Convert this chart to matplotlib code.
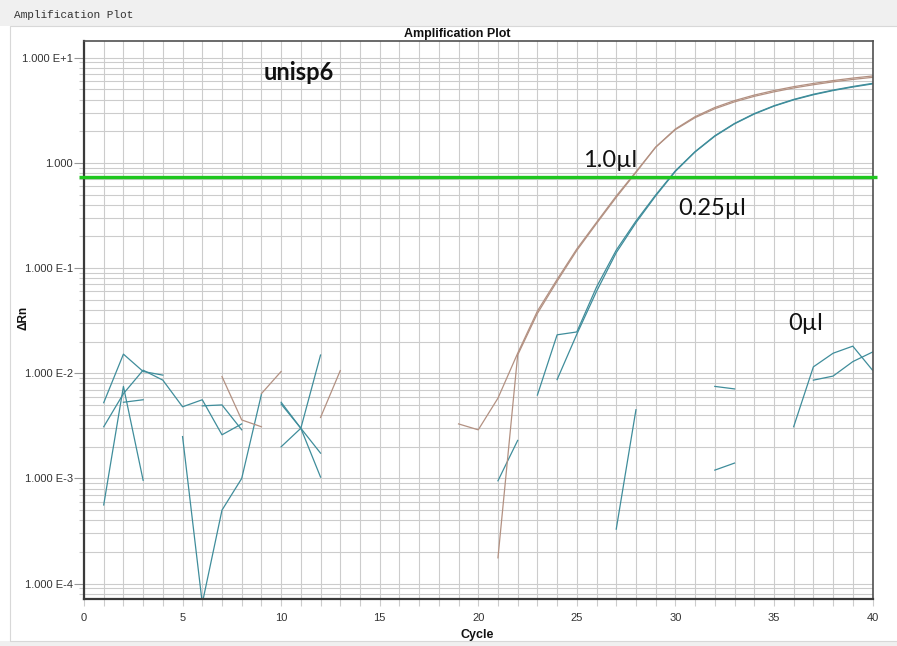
import numpy as np
import matplotlib
matplotlib.use("Agg")
import matplotlib.pyplot as plt
from matplotlib.patches import Rectangle
from matplotlib.ticker import LogLocator, MultipleLocator, FuncFormatter, NullFormatter

n = np.nan
cycles = np.arange(1, 41)

# delta Rn per cycle; nan where the value was <= 0 (not drawn on log axis)
# 1.0 ul template, two wells
brown_a = [n, n, n, n, n, n, 9.3e-3, 3.6e-3, 3.1e-3, n,
           n, 3.8e-3, 0.0106, n, n, n, n, n, 3.3e-3, 2.9e-3,
           5.8e-3, 0.0155, 0.039, 0.078, 0.152, 0.272, 0.484, 0.822, 1.41, 2.07,
           2.69, 3.27, 3.80, 4.29, 4.73, 5.15, 5.53, 5.89, 6.21, 6.50]
brown_b = [n, n, n, n, n, n, n, n, 6.4e-3, 0.0104,
           n, n, n, n, n, n, n, n, n, n,
           1.76e-4, 0.0149, 0.037, 0.075, 0.147, 0.265, 0.47, 0.81, 1.41, 2.10,
           2.75, 3.36, 3.91, 4.41, 4.87, 5.30, 5.69, 6.06, 6.40, 6.70]
# 0.25 ul template, two wells
teal_a = [5.25e-3, 0.0152, 0.0104, 9.6e-3, n, 4.9e-3, 5.0e-3, 2.9e-3, n, 5.3e-3,
          3.0e-3, 1.03e-3, n, n, n, n, n, n, n, n,
          n, n, 6.2e-3, 0.0232, 0.0247, 0.066, 0.148, 0.28, 0.495, 0.841,
          1.28, 1.81, 2.37, 2.94, 3.49, 4.01, 4.49, 4.92, 5.32, 5.70]
teal_b = [3.1e-3, 6.4e-3, 0.0107, 8.6e-3, 4.8e-3, 5.6e-3, 2.6e-3, 3.3e-3, n, 5.1e-3,
          3.0e-3, 1.74e-3, n, n, n, n, n, n, n, n,
          n, n, n, 8.7e-3, 0.0235, 0.060, 0.140, 0.27, 0.485, 0.83,
          1.27, 1.79, 2.35, 2.91, 3.46, 3.97, 4.44, 4.87, 5.26, 5.63]
# no template controls
ntc_a = [5.6e-4, 7.5e-3, 9.6e-4, n, 2.5e-3, 6.5e-5, 5.0e-4, 1.0e-3, 6.3e-3, n,
         n, n, n, n, n, n, n, n, n, n,
         9.5e-4, 2.3e-3, n, n, n, n, 3.3e-4, 4.5e-3, n, n,
         n, 7.5e-3, 7.1e-3, n, n, 3.1e-3, 0.0115, 0.0155, 0.0181, 0.0107]
ntc_b = [n, 5.3e-3, 5.6e-3, n, n, n, n, n, n, 2.0e-3,
         3.0e-3, 0.0149, n, n, n, n, n, n, n, n,
         n, n, n, n, n, n, n, n, n, n,
         n, 1.2e-3, 1.4e-3, n, n, n, 8.6e-3, 9.4e-3, 0.0129, 0.0159]

threshold = 0.73
yticks = [1e-4, 1e-3, 1e-2, 1e-1, 1, 10]

brown = "#b39182"
teal = "#3f8d9b"

W, H = 897, 646
fig = plt.figure(figsize=(W / 100, H / 100), dpi=100)
fig.patch.set_facecolor("white")

# window frame around the plot panel
fig.patches.append(Rectangle((0, 1 - 26 / H), 1, 26 / H, transform=fig.transFigure,
                             facecolor="#f0f0f0", edgecolor="none", zorder=0))
fig.patches.append(Rectangle((0, 0), 1, 5 / H, transform=fig.transFigure,
                             facecolor="#f0f0f0", edgecolor="none", zorder=0))
fig.patches.append(Rectangle((10 / W, 5 / H), 1.2, 1 - 31 / H, transform=fig.transFigure,
                             facecolor="none", edgecolor="#d8d8d8", lw=0.8, zorder=0))
fig.text(14 / W, 1 - 15 / H, "Amplification Plot", family="Liberation Mono",
         fontsize=8, color="#333333", va="center")

ax = fig.add_axes([84 / W, 1 - 599.3 / H, (872.5 - 84) / W, (599.3 - 40.7) / H])
ax.set_yscale("log")
ax.set_xlim(0, 40)
ax.set_ylim(7.1e-5, 14.5)

for vals, col in [(ntc_a, teal), (ntc_b, teal), (teal_b, teal), (teal_a, teal),
                  (brown_b, brown), (brown_a, brown)]:
    ax.plot(cycles, vals, color=col, lw=0.9)

ax.plot([-0.25, 40.25], [threshold, threshold], color="#1fc71f", lw=2.4,
        clip_on=False, solid_capstyle="butt", zorder=5)

ax.xaxis.set_major_locator(MultipleLocator(5))
ax.xaxis.set_minor_locator(MultipleLocator(1))
ax.yaxis.set_major_locator(LogLocator(base=10, numticks=20))
ax.yaxis.set_minor_locator(LogLocator(base=10, subs=np.arange(2, 10), numticks=20))
ax.yaxis.set_minor_formatter(NullFormatter())


def fmt(v, pos):
    e = int(round(np.log10(v)))
    return "1.000" if e == 0 else f"1.000 E{e:+d}"


ax.yaxis.set_major_formatter(FuncFormatter(fmt))
ax.set_yticks(yticks)

ax.grid(which="both", color="#cccccc", lw=0.8)
ax.set_axisbelow(True)
ax.tick_params(axis="y", which="major", length=7, width=0.8, color="#999999",
               labelsize=8, labelcolor="#333333", pad=1)
ax.tick_params(axis="y", which="minor", length=3.5, width=0.8, color="#cccccc")
ax.tick_params(axis="x", which="both", length=5, width=0.8, color="#cccccc",
               labelsize=8, labelcolor="#333333", pad=5)
for lab in ax.get_xticklabels() + ax.get_yticklabels():
    lab.set_family("Liberation Sans")

for side in ["left", "bottom"]:
    ax.spines[side].set_linewidth(1.6)
    ax.spines[side].set_color("#3a3a3a")
for side in ["top", "right"]:
    ax.spines[side].set_linewidth(1.2)
    ax.spines[side].set_color("#505050")

fig.text(457 / W, 1 - 34 / H, "Amplification Plot", family="Liberation Sans",
         weight="bold", fontsize=9, ha="center", va="center", color="#111111")
fig.text(477 / W, 1 - 635 / H, "Cycle", family="Liberation Sans",
         weight="bold", fontsize=9, ha="center", va="center", color="#111111")
fig.text(23 / W, 1 - 318 / H, "ΔRn", family="Liberation Sans",
         weight="bold", fontsize=8.5, ha="center", va="center", rotation=90,
         color="#111111")

ax.text(9.1, 6.15, "unisp6", family="Lato", weight="bold", fontsize=17,
        ha="left", va="baseline", color="#111111")
ax.text(25.3, 0.922, "1.0µl", family="Lato", fontsize=17, ha="left",
        va="baseline", color="#111111")
ax.text(30.15, 0.321, "0.25µl", family="Lato", fontsize=17, ha="left",
        va="baseline", color="#111111")
ax.text(35.75, 0.0255, "0µl", family="Lato", fontsize=17, ha="left",
        va="baseline", color="#111111")

fig.savefig("out.png", dpi=100)
